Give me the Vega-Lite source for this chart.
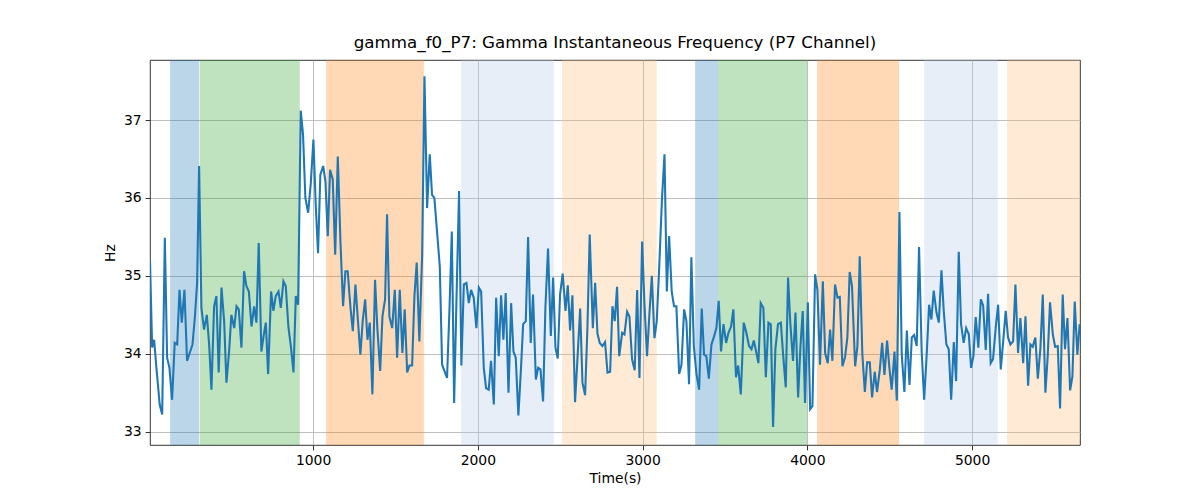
{
"$schema":"https://vega.github.io/schema/vega-lite/v6.json",
"width":930,"height":385,
"autosize":{"type":"none"},
"padding":{"left":150,"top":60,"right":120,"bottom":55},
"background":"white",
"config":{"font":"DejaVu Sans","view":{"stroke":"black","strokeWidth":0.8},
"axis":{"domain":false,"grid":true,"gridColor":"#b0b0b0","gridWidth":0.8,"tickColor":"black","tickWidth":0.8,"tickSize":4.9,"labelPadding":4,"labelFontSize":13.9,"labelColor":"black","titleFontSize":13.9,"titleFontWeight":"normal","titleColor":"black"}},
"title":{"text":"gamma_f0_P7: Gamma Instantaneous Frequency (P7 Channel)","fontSize":16.7,"fontWeight":"normal","color":"black","offset":8},
"datasets":{
"bands":[
{"start":132,"end":308,"kind":"a"},{"start":312,"end":919,"kind":"b"},{"start":1079,"end":1672,"kind":"c"},{"start":1898,"end":2461,"kind":"d"},{"start":2511,"end":3086,"kind":"e"},
{"start":3319,"end":3458,"kind":"a"},{"start":3458,"end":3998,"kind":"b"},{"start":4059,"end":4557,"kind":"c"},{"start":4709,"end":5156,"kind":"d"},{"start":5212,"end":5655,"kind":"e"}],
"series":[
{"t":10,"hz":35.2},{"t":23,"hz":34.08},{"t":35,"hz":34.18},{"t":49,"hz":33.82},{"t":69,"hz":33.35},{"t":84,"hz":33.22},{"t":100,"hz":35.49},{"t":114,"hz":33.95},{"t":128,"hz":33.82},{"t":144,"hz":33.41},{"t":160,"hz":34.14},{"t":175,"hz":34.12},{"t":189,"hz":34.82},{"t":203,"hz":34.4},{"t":219,"hz":34.82},{"t":235,"hz":33.91},{"t":251,"hz":34.01},{"t":268,"hz":34.12},{"t":282,"hz":34.46},{"t":296,"hz":34.91},{"t":308,"hz":36.41},{"t":322,"hz":34.59},{"t":338,"hz":34.31},{"t":355,"hz":34.5},{"t":369,"hz":34.12},{"t":383,"hz":33.54},{"t":399,"hz":34.61},{"t":413,"hz":34.74},{"t":427,"hz":33.76},{"t":444,"hz":34.85},{"t":460,"hz":34.42},{"t":474,"hz":33.63},{"t":490,"hz":34.03},{"t":504,"hz":34.5},{"t":521,"hz":34.33},{"t":535,"hz":34.61},{"t":549,"hz":34.57},{"t":565,"hz":34.08},{"t":581,"hz":35.06},{"t":595,"hz":34.87},{"t":610,"hz":34.8},{"t":626,"hz":34.35},{"t":642,"hz":34.61},{"t":656,"hz":34.4},{"t":670,"hz":35.42},{"t":686,"hz":34.03},{"t":701,"hz":34.25},{"t":713,"hz":34.4},{"t":727,"hz":33.74},
{"t":745,"hz":34.8},{"t":759,"hz":34.55},{"t":773,"hz":34.74},{"t":790,"hz":34.8},{"t":804,"hz":34.59},{"t":820,"hz":34.93},{"t":834,"hz":34.87},{"t":850,"hz":34.35},{"t":866,"hz":34.08},{"t":881,"hz":33.76},{"t":895,"hz":34.74},{"t":909,"hz":34.63},{"t":925,"hz":37.12},{"t":939,"hz":36.81},{"t":953,"hz":36.0},{"t":970,"hz":35.81},{"t":986,"hz":36.19},{"t":1002,"hz":36.75},{"t":1016,"hz":35.91},{"t":1030,"hz":35.29},{"t":1044,"hz":36.3},{"t":1061,"hz":36.41},{"t":1075,"hz":36.21},{"t":1089,"hz":35.51},{"t":1103,"hz":36.36},{"t":1119,"hz":36.24},{"t":1134,"hz":35.27},{"t":1150,"hz":36.53},{"t":1166,"hz":35.44},{"t":1182,"hz":34.61},{"t":1196,"hz":35.06},{"t":1210,"hz":35.06},{"t":1227,"hz":34.59},{"t":1241,"hz":34.29},{"t":1257,"hz":34.89},{"t":1271,"hz":34.46},{"t":1287,"hz":33.99},{"t":1301,"hz":34.42},{"t":1316,"hz":34.7},{"t":1330,"hz":34.18},{"t":1344,"hz":34.4},{"t":1360,"hz":33.48},{"t":1376,"hz":34.95},{"t":1390,"hz":34.33},{"t":1407,"hz":33.78},{"t":1421,"hz":34.48},{"t":1437,"hz":34.7},
{"t":1449,"hz":35.79},{"t":1463,"hz":34.48},{"t":1480,"hz":34.33},{"t":1496,"hz":34.82},{"t":1510,"hz":33.95},{"t":1526,"hz":34.82},{"t":1542,"hz":34.01},{"t":1556,"hz":34.57},{"t":1571,"hz":33.76},{"t":1585,"hz":33.85},{"t":1601,"hz":33.85},{"t":1615,"hz":34.74},{"t":1629,"hz":35.17},{"t":1645,"hz":34.16},{"t":1662,"hz":35.27},{"t":1676,"hz":37.56},{"t":1692,"hz":35.87},{"t":1708,"hz":36.56},{"t":1722,"hz":36.04},{"t":1736,"hz":36.0},{"t":1753,"hz":35.55},{"t":1769,"hz":35.12},{"t":1783,"hz":33.86},{"t":1797,"hz":33.78},{"t":1813,"hz":33.69},{"t":1828,"hz":34.59},{"t":1842,"hz":35.57},{"t":1856,"hz":33.37},{"t":1872,"hz":34.85},{"t":1886,"hz":36.09},{"t":1900,"hz":33.85},{"t":1915,"hz":34.89},{"t":1931,"hz":34.91},{"t":1945,"hz":34.65},{"t":1959,"hz":34.82},{"t":1975,"hz":34.72},{"t":1991,"hz":34.33},{"t":2006,"hz":34.85},{"t":2020,"hz":34.8},{"t":2036,"hz":33.82},{"t":2050,"hz":33.56},{"t":2066,"hz":33.54},{"t":2080,"hz":33.91},{"t":2097,"hz":33.35},{"t":2111,"hz":34.72},{"t":2127,"hz":33.97},{"t":2141,"hz":34.75},
{"t":2155,"hz":34.18},{"t":2169,"hz":34.78},{"t":2186,"hz":33.5},{"t":2202,"hz":34.65},{"t":2216,"hz":34.03},{"t":2230,"hz":33.95},{"t":2246,"hz":33.21},{"t":2261,"hz":33.78},{"t":2275,"hz":34.38},{"t":2291,"hz":34.42},{"t":2305,"hz":35.5},{"t":2321,"hz":34.14},{"t":2335,"hz":34.76},{"t":2352,"hz":33.67},{"t":2366,"hz":33.82},{"t":2380,"hz":33.8},{"t":2396,"hz":33.39},{"t":2410,"hz":34.59},{"t":2426,"hz":35.35},{"t":2443,"hz":34.23},{"t":2457,"hz":34.98},{"t":2471,"hz":34.08},{"t":2485,"hz":33.94},{"t":2499,"hz":34.76},{"t":2515,"hz":35.03},{"t":2532,"hz":34.55},{"t":2546,"hz":34.88},{"t":2560,"hz":34.3},{"t":2574,"hz":34.75},{"t":2590,"hz":33.38},{"t":2606,"hz":33.99},{"t":2621,"hz":34.58},{"t":2635,"hz":33.63},{"t":2651,"hz":33.47},{"t":2665,"hz":34.33},{"t":2679,"hz":35.53},{"t":2698,"hz":34.33},{"t":2712,"hz":34.91},{"t":2726,"hz":34.26},{"t":2740,"hz":34.14},{"t":2756,"hz":34.1},{"t":2772,"hz":34.15},{"t":2787,"hz":33.76},{"t":2803,"hz":33.77},{"t":2817,"hz":34.61},{"t":2831,"hz":34.42},{"t":2845,"hz":34.86},
{"t":2858,"hz":33.97},{"t":2876,"hz":34.27},{"t":2890,"hz":34.25},{"t":2906,"hz":34.54},{"t":2920,"hz":34.48},{"t":2936,"hz":33.93},{"t":2952,"hz":33.79},{"t":2967,"hz":34.82},{"t":2981,"hz":33.69},{"t":2997,"hz":35.44},{"t":3011,"hz":34.65},{"t":3027,"hz":33.97},{"t":3041,"hz":34.5},{"t":3056,"hz":35.0},{"t":3072,"hz":34.2},{"t":3086,"hz":34.42},{"t":3102,"hz":35.17},{"t":3118,"hz":36.0},{"t":3133,"hz":36.56},{"t":3147,"hz":34.8},{"t":3161,"hz":35.51},{"t":3177,"hz":34.79},{"t":3191,"hz":34.61},{"t":3205,"hz":34.61},{"t":3222,"hz":33.74},{"t":3236,"hz":33.86},{"t":3252,"hz":34.57},{"t":3266,"hz":34.42},{"t":3282,"hz":33.61},{"t":3296,"hz":35.24},{"t":3311,"hz":34.1},{"t":3327,"hz":33.74},{"t":3343,"hz":33.54},{"t":3359,"hz":34.58},{"t":3373,"hz":33.99},{"t":3387,"hz":33.97},{"t":3402,"hz":33.68},{"t":3418,"hz":34.12},{"t":3432,"hz":34.21},{"t":3448,"hz":34.33},{"t":3462,"hz":34.68},{"t":3476,"hz":34.03},{"t":3491,"hz":34.38},{"t":3507,"hz":34.14},{"t":3521,"hz":34.27},{"t":3537,"hz":34.35},{"t":3551,"hz":34.57},{"t":3567,"hz":33.7},
{"t":3580,"hz":33.85},{"t":3596,"hz":33.48},{"t":3614,"hz":34.4},{"t":3630,"hz":34.27},{"t":3646,"hz":34.1},{"t":3661,"hz":34.06},{"t":3675,"hz":34.17},{"t":3691,"hz":34.01},{"t":3703,"hz":33.88},{"t":3717,"hz":34.65},{"t":3733,"hz":34.59},{"t":3748,"hz":33.7},{"t":3764,"hz":34.4},{"t":3778,"hz":34.38},{"t":3792,"hz":33.06},{"t":3806,"hz":34.06},{"t":3822,"hz":34.38},{"t":3839,"hz":34.4},{"t":3853,"hz":33.99},{"t":3869,"hz":33.57},{"t":3883,"hz":34.98},{"t":3897,"hz":34.38},{"t":3913,"hz":33.91},{"t":3928,"hz":34.53},{"t":3944,"hz":33.44},{"t":3958,"hz":34.09},{"t":3972,"hz":34.55},{"t":3986,"hz":33.37},{"t":4003,"hz":34.66},{"t":4017,"hz":33.29},{"t":4031,"hz":33.33},{"t":4047,"hz":35.02},{"t":4061,"hz":34.82},{"t":4077,"hz":33.86},{"t":4094,"hz":34.93},{"t":4108,"hz":34.01},{"t":4124,"hz":33.88},{"t":4138,"hz":34.31},{"t":4152,"hz":33.91},{"t":4168,"hz":34.89},{"t":4183,"hz":34.72},{"t":4197,"hz":34.73},{"t":4213,"hz":33.84},{"t":4229,"hz":33.96},{"t":4243,"hz":34.21},{"t":4257,"hz":35.05},{"t":4271,"hz":34.87},
{"t":4290,"hz":33.84},{"t":4304,"hz":34.1},{"t":4318,"hz":35.25},{"t":4334,"hz":33.99},{"t":4349,"hz":33.51},{"t":4363,"hz":33.89},{"t":4379,"hz":33.89},{"t":4393,"hz":33.44},{"t":4409,"hz":33.77},{"t":4423,"hz":33.51},{"t":4440,"hz":33.8},{"t":4454,"hz":34.14},{"t":4468,"hz":33.73},{"t":4484,"hz":34.17},{"t":4498,"hz":33.82},{"t":4512,"hz":33.54},{"t":4529,"hz":34.03},{"t":4543,"hz":33.4},{"t":4559,"hz":35.82},{"t":4573,"hz":33.99},{"t":4589,"hz":33.51},{"t":4604,"hz":34.3},{"t":4620,"hz":33.6},{"t":4634,"hz":34.21},{"t":4648,"hz":34.24},{"t":4664,"hz":34.1},{"t":4678,"hz":35.37},{"t":4694,"hz":34.03},{"t":4709,"hz":33.41},{"t":4725,"hz":34.01},{"t":4739,"hz":34.63},{"t":4753,"hz":34.44},{"t":4767,"hz":34.81},{"t":4784,"hz":34.53},{"t":4798,"hz":34.4},{"t":4814,"hz":35.07},{"t":4828,"hz":34.55},{"t":4844,"hz":34.12},{"t":4858,"hz":34.06},{"t":4873,"hz":33.41},{"t":4889,"hz":34.15},{"t":4903,"hz":33.65},{"t":4919,"hz":35.31},{"t":4933,"hz":34.38},{"t":4949,"hz":34.14},{"t":4964,"hz":34.33},{"t":4980,"hz":34.25},
{"t":4994,"hz":33.82},{"t":5008,"hz":33.97},{"t":5022,"hz":34.47},{"t":5038,"hz":34.08},{"t":5053,"hz":34.7},{"t":5067,"hz":34.62},{"t":5083,"hz":34.05},{"t":5097,"hz":34.77},{"t":5113,"hz":33.88},{"t":5127,"hz":33.93},{"t":5144,"hz":34.35},{"t":5158,"hz":34.63},{"t":5174,"hz":33.8},{"t":5188,"hz":34.14},{"t":5204,"hz":34.55},{"t":5218,"hz":34.21},{"t":5233,"hz":34.12},{"t":5249,"hz":34.16},{"t":5263,"hz":34.89},{"t":5279,"hz":34.01},{"t":5293,"hz":34.46},{"t":5310,"hz":33.88},{"t":5324,"hz":34.48},{"t":5340,"hz":33.59},{"t":5354,"hz":34.12},{"t":5368,"hz":34.09},{"t":5384,"hz":34.21},{"t":5399,"hz":33.68},{"t":5415,"hz":34.08},{"t":5429,"hz":34.76},{"t":5445,"hz":33.5},{"t":5459,"hz":33.97},{"t":5473,"hz":34.66},{"t":5490,"hz":34.25},{"t":5504,"hz":34.09},{"t":5520,"hz":34.1},{"t":5534,"hz":33.3},{"t":5550,"hz":34.76},{"t":5564,"hz":34.06},{"t":5579,"hz":34.46},{"t":5595,"hz":33.53},{"t":5609,"hz":33.71},{"t":5623,"hz":34.67},{"t":5639,"hz":33.99},{"t":5653,"hz":34.38}]
},
"layer":[
{"data":{"name":"bands"},"mark":{"type":"rect","opacity":0.3},
"encoding":{
"x":{"field":"start","type":"quantitative","scale":{"domain":[10,5655],"nice":false,"zero":false},"axis":{"title":"Time(s)","values":[1000,2000,3000,4000,5000],"format":"d","titlePadding":4}},
"x2":{"field":"end"},
"color":{"field":"kind","type":"nominal","scale":{"domain":["a","b","c","d","e"],"range":["#1f77b4","#2ca02c","#ff7f0e","#aec7e8","#ffbb78"]},"legend":null}}},
{"data":{"name":"series"},"mark":{"type":"line","color":"#1f77b4","strokeWidth":2.08,"clip":true},
"encoding":{
"x":{"field":"t","type":"quantitative","scale":{"domain":[10,5655],"nice":false,"zero":false},"axis":{"title":"Time(s)","values":[1000,2000,3000,4000,5000],"format":"d","titlePadding":4}},
"y":{"field":"hz","type":"quantitative","scale":{"domain":[32.83,37.77],"nice":false,"zero":false},"axis":{"title":"Hz","values":[33,34,35,36,37],"format":"d","titlePadding":6}}}}
]
}
